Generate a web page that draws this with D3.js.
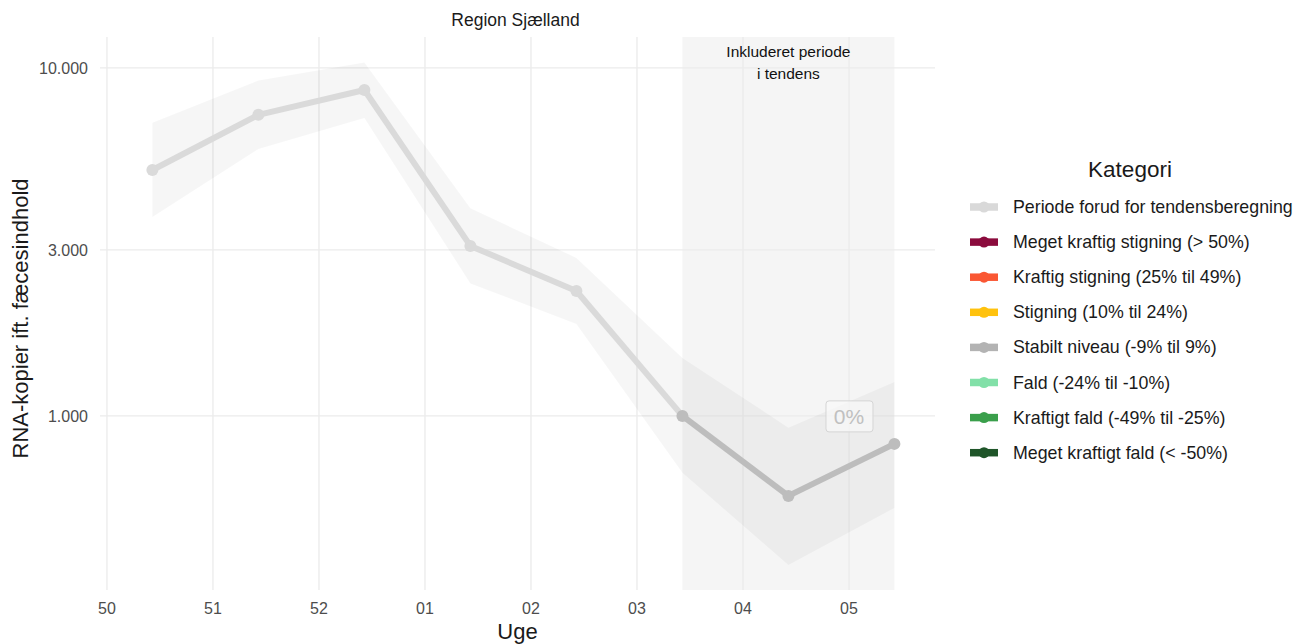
<!DOCTYPE html>
<html>
<head>
<meta charset="utf-8">
<script src="https://cdn.jsdelivr.net/npm/d3@7"></script>
<style>
  body { margin: 0; background: #fff; }
  svg { font-family: "Liberation Sans", Arial, sans-serif; }
</style>
</head>
<body>
<svg id="chart"></svg>
<script>
// data (weekly samples, plotted on Thursdays)
var dates = ["2022-12-15", "2022-12-22", "2022-12-29", "2023-01-05", "2023-01-12", "2023-01-19", "2023-01-26", "2023-02-02"];
var values = [5090, 7330, 8640, 3080, 2285, 1000, 589, 831];
var upper = [6960, 9195, 10360, 3950, 2845, 1468, 925, 1252];
var lower = [3730, 5850, 7180, 2403, 1837, 686, 373, 544];
var category = ["pre", "pre", "pre", "pre", "pre", "stable", "stable", "stable"];

var weekTicks = ["2022-12-12", "2022-12-19", "2022-12-26", "2023-01-02", "2023-01-09", "2023-01-16", "2023-01-23", "2023-01-30"];
var yTicks = [1000, 3000, 10000];

var trendStart = "2023-01-19", trendEnd = "2023-02-02";
var trendLabel = "0%";
var trendLabelAt = ["2023-01-30", 1000];

var legendLabels = [
  "Periode forud for tendensberegning",
  "Meget kraftig stigning (> 50%)",
  "Kraftig stigning (25% til 49%)",
  "Stigning (10% til 24%)",
  "Stabilt niveau (-9% til 9%)",
  "Fald (-24% til -10%)",
  "Kraftigt fald (-49% til -25%)",
  "Meget kraftigt fald (< -50%)"
];
var legendColors = ["#d9d9d9", "#8b0b3d", "#fa5733", "#ffc20e", "#b3b3b3", "#82e0a8", "#3a9f4b", "#1f5529"];
var catColor = { pre: "#dadada", stable: "#bdbdbd" };

var W = 1296, H = 644;
var margin = { top: 37, right: 361, bottom: 54, left: 100 };
var width = W - margin.left - margin.right,
  height = H - margin.top - margin.bottom;

var parse = d3.timeParse("%Y-%m-%d");
var fmtNum = function (d) { return d3.format(",")(d).replace(/,/g, "."); };

var svg = d3.select("#chart").attr("width", W).attr("height", H);
var g = svg.append("g").attr("transform", "translate(" + margin.left + "," + margin.top + ")");

// time axis, padded like ggplot
var t0 = parse("2022-12-12");
var day = 864e5;
var x = d3.scaleTime()
  .domain([new Date(+t0 - 0.46 * day), new Date(+t0 + 54.68 * day)])
  .range([0, width]);

var y = d3.scaleLog()
  .domain([316, 12270])
  .range([height, 0]);

var pts = dates.map(function (d, i) {
  return { date: parse(d), v: values[i], hi: upper[i], lo: lower[i], cat: category[i] };
});

// included trend period
g.append("rect")
  .attr("x", x(parse(trendStart)))
  .attr("y", 0)
  .attr("width", x(parse(trendEnd)) - x(parse(trendStart)))
  .attr("height", height)
  .attr("fill", "#f5f5f5");

// grid
g.selectAll(".vgrid").data(weekTicks).enter().append("line")
  .attr("x1", function (d) { return x(parse(d)); })
  .attr("x2", function (d) { return x(parse(d)); })
  .attr("y1", 0).attr("y2", height)
  .attr("stroke", "#ebebeb").attr("stroke-width", 1.3);
g.selectAll(".hgrid").data(yTicks).enter().append("line")
  .attr("x1", 0).attr("x2", width)
  .attr("y1", function (d) { return y(d); })
  .attr("y2", function (d) { return y(d); })
  .attr("stroke", "#ebebeb").attr("stroke-width", 1.3);

// period text
var cx = (x(parse(trendStart)) + x(parse(trendEnd))) / 2;
var lab = g.append("text")
  .attr("x", cx)
  .attr("y", 20)
  .attr("text-anchor", "middle")
  .attr("font-size", 15.5)
  .attr("fill", "#111");
lab.append("tspan").attr("x", cx).text("Inkluderet periode");
lab.append("tspan").attr("x", cx).attr("dy", 22).text("i tendens");

// confidence band
g.append("path")
  .datum(pts)
  .attr("fill", "#000")
  .attr("fill-opacity", 0.035)
  .attr("d", d3.area()
    .x(function (d) { return x(d.date); })
    .y0(function (d) { return y(d.lo); })
    .y1(function (d) { return y(d.hi); }));

// line segments coloured by category of the segment start
var segs = d3.pairs(pts);
g.selectAll(".seg").data(segs).enter().append("line")
  .attr("x1", function (d) { return x(d[0].date); })
  .attr("y1", function (d) { return y(d[0].v); })
  .attr("x2", function (d) { return x(d[1].date); })
  .attr("y2", function (d) { return y(d[1].v); })
  .attr("stroke", function (d) { return catColor[d[0].cat]; })
  .attr("stroke-width", 6);

g.selectAll(".pt").data(pts).enter().append("circle")
  .attr("cx", function (d) { return x(d.date); })
  .attr("cy", function (d) { return y(d.v); })
  .attr("r", 6)
  .attr("fill", function (d) { return catColor[d.cat]; });

// trend label
var lx = x(parse(trendLabelAt[0])), ly = y(trendLabelAt[1]);
g.append("rect")
  .attr("x", lx - 23).attr("y", ly - 15)
  .attr("width", 47).attr("height", 31)
  .attr("rx", 3)
  .attr("fill", "#fafafa")
  .attr("fill-opacity", 0.7)
  .attr("stroke", "#d5d5d5");
g.append("text")
  .attr("x", lx).attr("y", ly + 8)
  .attr("text-anchor", "middle")
  .attr("font-size", 21)
  .attr("fill", "#c0c0c0")
  .text(trendLabel);

// axes
g.selectAll(".xt").data(weekTicks).enter().append("text")
  .attr("x", function (d) { return x(parse(d)); })
  .attr("y", height + 24)
  .attr("text-anchor", "middle")
  .attr("font-size", 16)
  .attr("fill", "#4d4d4d")
  .text(function (d) { return d3.timeFormat("%V")(parse(d)); });

g.selectAll(".yt").data(yTicks).enter().append("text")
  .attr("x", -12)
  .attr("y", function (d) { return y(d) + 6; })
  .attr("text-anchor", "end")
  .attr("font-size", 16)
  .attr("fill", "#4d4d4d")
  .text(fmtNum);

// titles
svg.append("text")
  .attr("x", margin.left + width / 2 - 2).attr("y", 26)
  .attr("text-anchor", "middle")
  .attr("font-size", 17.5)
  .attr("fill", "#1a1a1a")
  .text("Region Sjælland");

svg.append("text")
  .attr("x", margin.left + width / 2).attr("y", 639)
  .attr("text-anchor", "middle")
  .attr("font-size", 22)
  .attr("fill", "#1a1a1a")
  .text("Uge");

svg.append("text")
  .attr("transform", "translate(28," + (margin.top + height / 2 + 5) + ") rotate(-90)")
  .attr("text-anchor", "middle")
  .attr("font-size", 22)
  .attr("fill", "#1a1a1a")
  .text("RNA-kopier ift. fæcesindhold");

// legend
var leg = svg.append("g").attr("transform", "translate(970,0)");
leg.append("text")
  .attr("x", 160).attr("y", 177)
  .attr("text-anchor", "middle")
  .attr("font-size", 22.5)
  .attr("fill", "#1a1a1a")
  .text("Kategori");

var rows = leg.selectAll(".row").data(legendLabels).enter().append("g")
  .attr("transform", function (d, i) { return "translate(0," + (207 + i * 35.1) + ")"; });
rows.append("line")
  .attr("x1", 0).attr("x2", 28)
  .attr("stroke", function (d, i) { return legendColors[i]; })
  .attr("stroke-width", 7.5);
rows.append("circle")
  .attr("cx", 14).attr("r", 5.5)
  .attr("fill", function (d, i) { return legendColors[i]; });
rows.append("text")
  .attr("x", 43).attr("y", 6)
  .attr("font-size", 17.8)
  .attr("fill", "#1a1a1a")
  .text(function (d) { return d; });
</script>
</body>
</html>
